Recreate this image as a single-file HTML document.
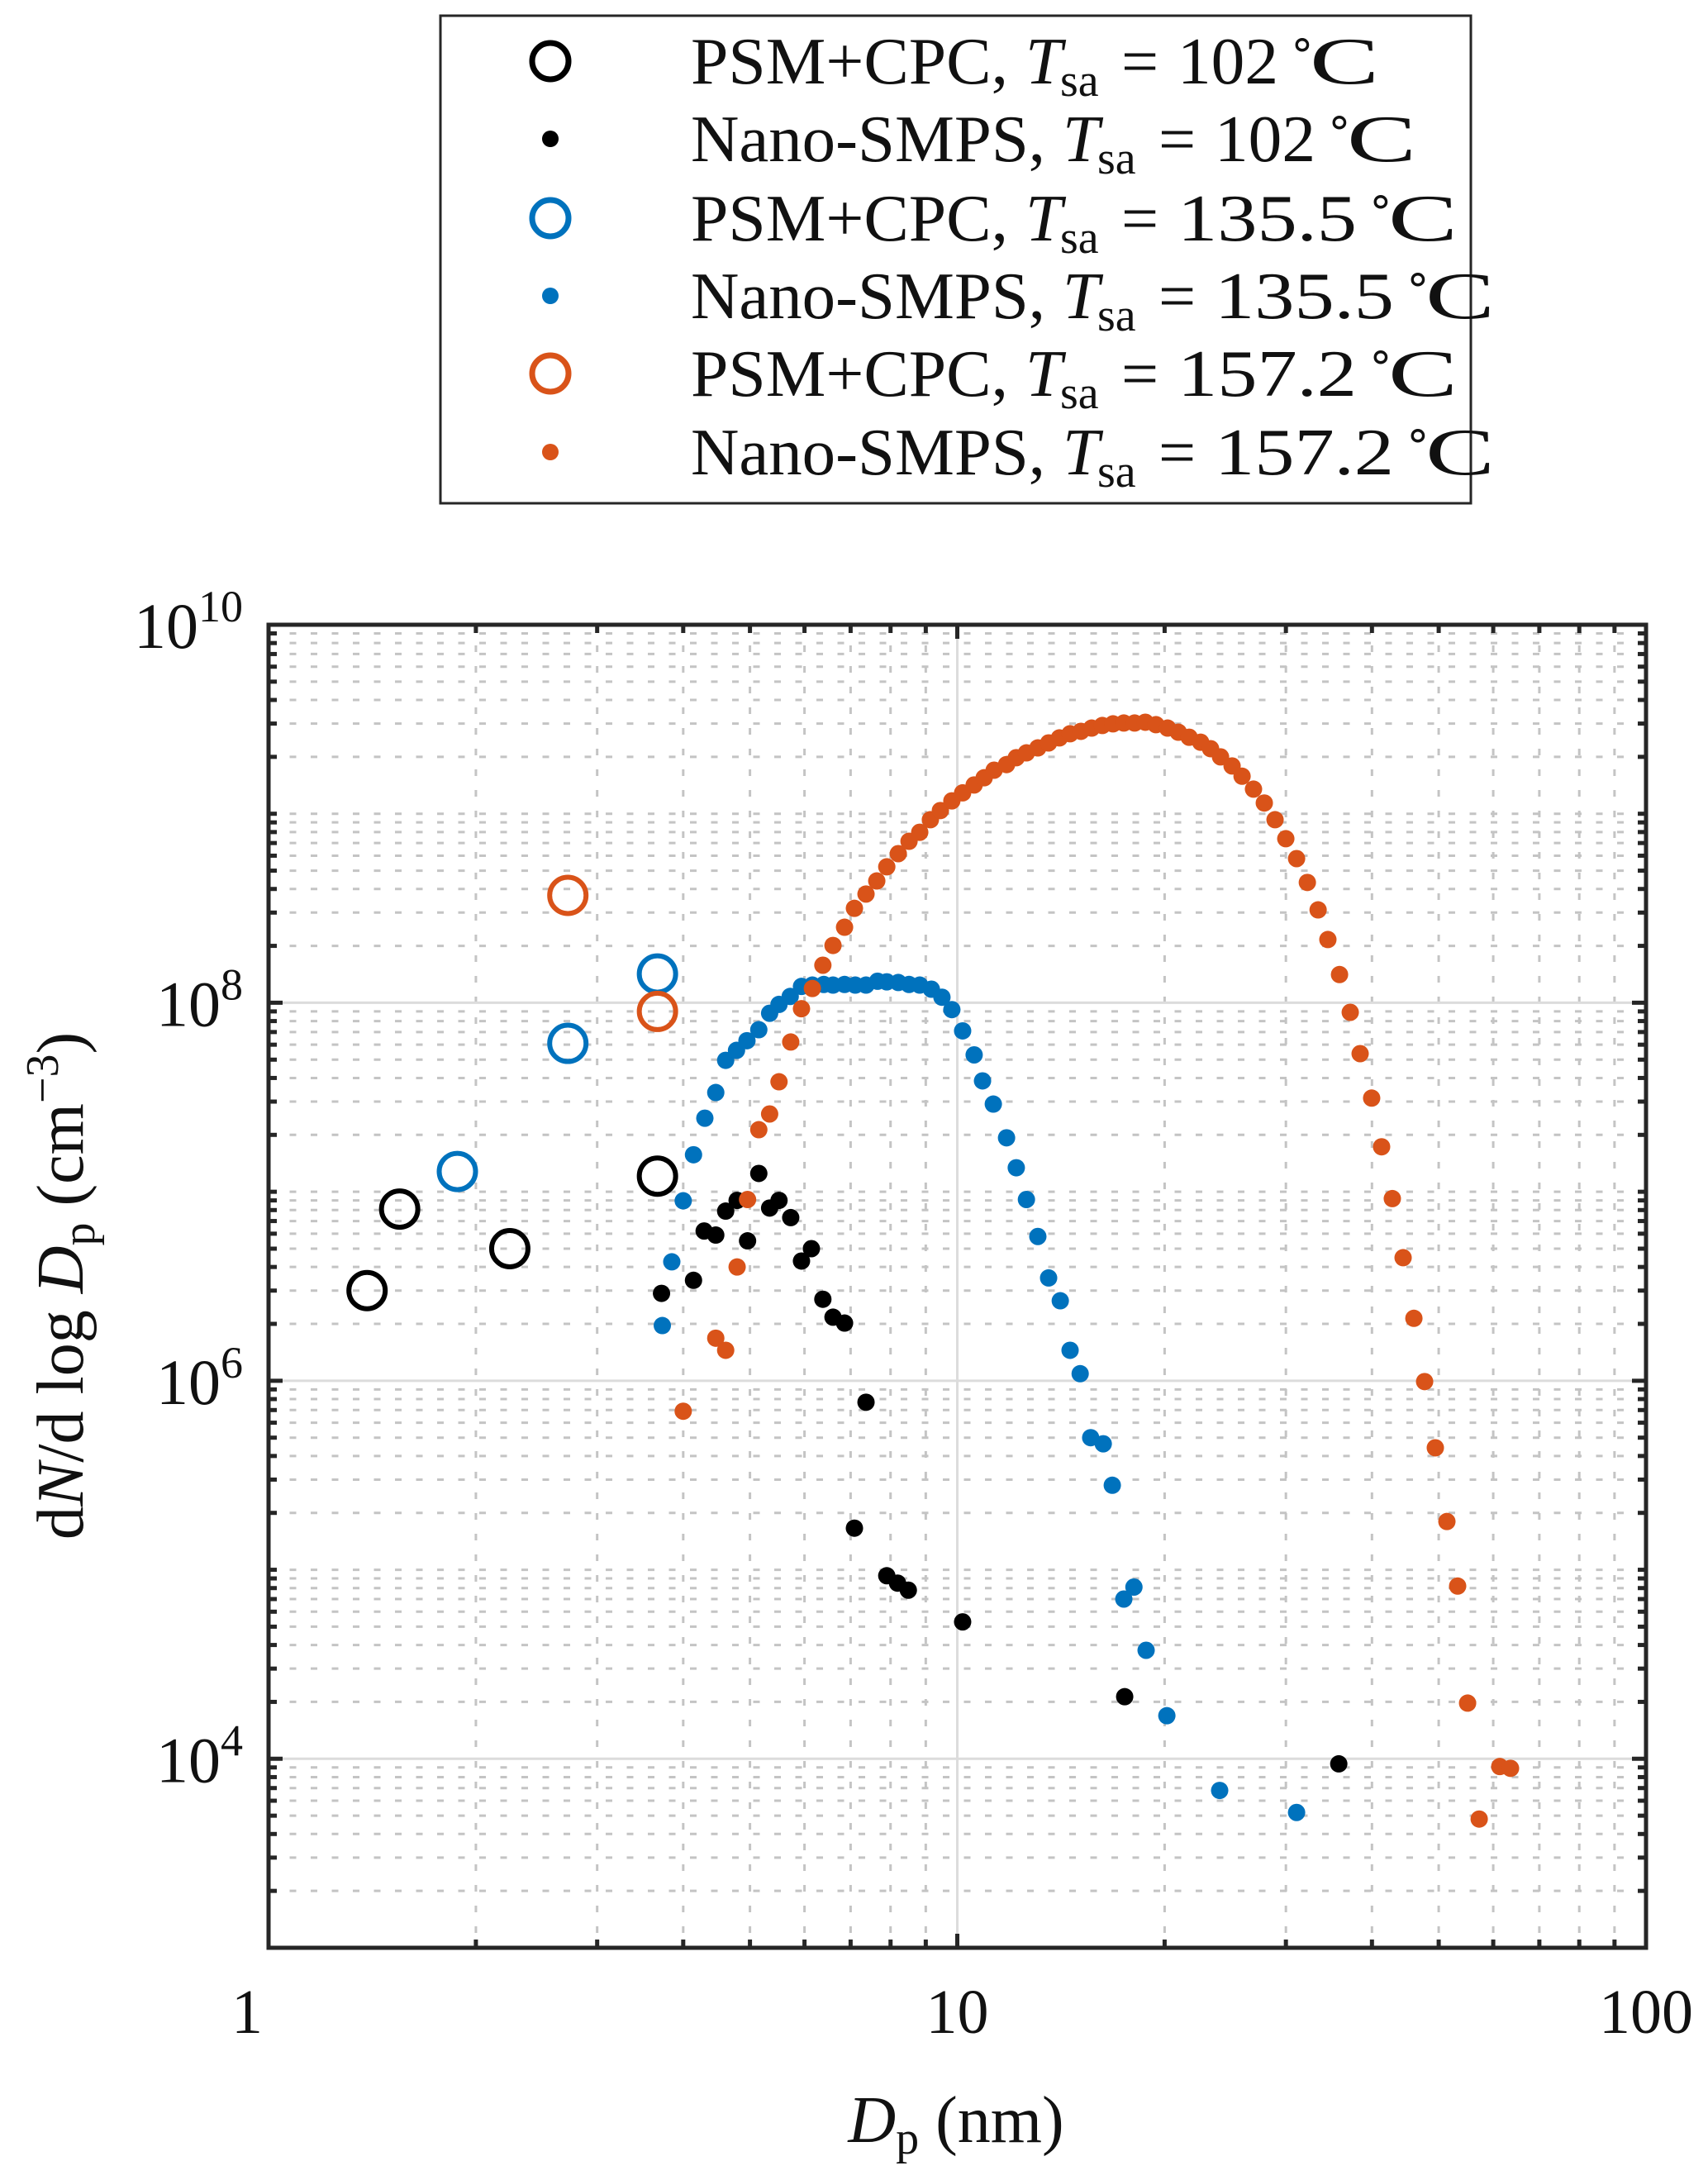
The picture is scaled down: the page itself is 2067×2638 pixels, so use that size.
<!DOCTYPE html>
<html><head><meta charset="utf-8"><style>
html,body{margin:0;padding:0;background:#fff;}
svg{display:block;font-family:"Liberation Serif",serif;}
</style></head><body>
<svg id="chart" width="2067" height="2638" viewBox="0 0 2067 2638" xmlns="http://www.w3.org/2000/svg">
<rect x="0" y="0" width="2067" height="2638" fill="#fff"/>
<g id="grid"></g>
<g id="data"></g>
<g id="axes"></g>
<text x="1157" y="2592" font-size="80" text-anchor="middle" fill="#111"><tspan font-style="italic">D</tspan><tspan font-size="56" dy="14">p</tspan><tspan dy="-14"> (nm)</tspan></text>
<text transform="translate(100,1556) rotate(-90)" font-size="80" text-anchor="middle" fill="#111">d<tspan font-style="italic">N</tspan>/d log <tspan font-style="italic">D</tspan><tspan font-size="56" dy="14">p</tspan><tspan dy="-14"> (cm</tspan><tspan font-size="56" dy="-30">−3</tspan><tspan dy="30">)</tspan></text>
<g id="legend">
<rect x="533" y="19" width="1247" height="590" fill="#fff" stroke="#262626" stroke-width="3"/>
</g>
</svg>
<script>
// ---- data (Dp in nm, dN/dlogDp in cm^-3) ----
const psm102D = [1.39, 1.55, 2.24, 3.67];
const psm102N = [3.0e6, 8.1e6, 5.0e6, 1.21e7];
const psm135D = [1.88, 2.72, 3.67];
const psm135N = [1.28e7, 6.1e7, 1.42e8];
const psm157D = [2.72, 3.67];
const psm157N = [3.7e8, 9.0e7];

const smps102D = [3.72,4.14,4.29,4.46,4.61,4.79,4.96,5.15,5.34,5.51,5.73,5.94,6.14,6.38,6.60,6.86,7.37,7.09,7.90,8.19,8.49,10.18,17.5,35.8];
const smps102N = [2.9e6,3.4e6,6.2e6,5.9e6,7.9e6,9.0e6,5.5e6,1.25e7,8.2e6,9.0e6,7.3e6,4.3e6,5.0e6,2.7e6,2.17e6,2.02e6,7.7e5,1.66e5,9.3e4,8.5e4,7.8e4,5.3e4,2.13e4,9.4e3];

const smps135D = [3.73,3.85,4.00,4.14,4.30,4.46,4.61,4.78,4.95,5.15,5.34,5.51,5.72,5.94,6.16,6.40,6.60,6.86,7.11,7.37,7.66,7.90,8.21,8.51,8.82,9.17,9.50,9.82,10.18,10.58,10.88,11.28,11.79,12.18,12.60,13.09,13.57,14.11,14.58,15.08,15.62,16.29,16.79,17.45,18.05,18.80,20.15,24.04,31.09];
const smps135N = [1.96e6,4.26e6,8.96e6,1.57e7,2.45e7,3.35e7,4.96e7,5.6e7,6.3e7,7.2e7,8.8e7,9.8e7,1.08e8,1.22e8,1.24e8,1.25e8,1.24e8,1.25e8,1.24e8,1.24e8,1.30e8,1.29e8,1.28e8,1.25e8,1.24e8,1.18e8,1.07e8,9.2e7,7.1e7,5.3e7,3.86e7,2.91e7,1.93e7,1.34e7,9.1e6,5.8e6,3.5e6,2.65e6,1.45e6,1.09e6,5.0e5,4.64e5,2.8e5,7.0e4,8.1e4,3.75e4,1.69e4,6.8e3,5.2e3];

const smps157D = [4.00,4.46,4.61,4.79,4.96,5.15,5.34,5.51,5.73,5.94,6.16,6.38,6.60,6.86,7.09,7.37,7.64,7.90,8.21,8.51,8.82,9.14,9.45,9.82,10.18,10.58,10.94,11.31,11.79,12.18,12.60,13.09,13.57,14.07,14.58,15.12,15.67,16.24,16.83,17.45,18.09,18.75,19.43,20.20,20.94,21.71,22.56,23.32,24.11,25.06,25.91,26.92,27.91,28.93,29.99,31.09,32.23,33.41,34.52,35.89,37.20,38.45,39.96,41.31,42.82,44.39,46.02,47.70,49.44,51.39,53.27,55.07,57.25,61.33,63.57];
const smps157N = [6.9e5,1.68e6,1.45e6,4.0e6,9.1e6,2.13e7,2.58e7,3.82e7,6.2e7,9.3e7,1.19e8,1.58e8,2.01e8,2.51e8,3.16e8,3.76e8,4.41e8,5.24e8,6.15e8,7.15e8,7.98e8,9.3e8,1.04e9,1.17e9,1.29e9,1.42e9,1.55e9,1.70e9,1.82e9,1.98e9,2.10e9,2.23e9,2.37e9,2.52e9,2.65e9,2.73e9,2.84e9,2.93e9,2.99e9,3.02e9,3.02e9,3.05e9,2.96e9,2.84e9,2.70e9,2.54e9,2.39e9,2.21e9,2.00e9,1.79e9,1.58e9,1.35e9,1.14e9,9.3e8,7.38e8,5.79e8,4.33e8,3.10e8,2.16e8,1.41e8,8.9e7,5.38e7,3.13e7,1.73e7,9.2e6,4.48e6,2.14e6,9.9e5,4.42e5,1.80e5,8.2e4,1.97e4,4.8e3,9.1e3,8.9e3];

const xTickValues = [1, 10, 100];
const xTickLabels = ["1", "10", "100"];
const yTickExponents = [4, 6, 8, 10];

// ---- axes geometry ----
const PL = 325, PR = 1992, PT = 756, PB = 2357;
const X_MIN = 0, X_MAX = 2, Y_MIN = 3, Y_MAX = 10;
function xs(v){ return PL + (Math.log10(v) - X_MIN) / (X_MAX - X_MIN) * (PR - PL); }
function ys(v){ return PB - (Math.log10(v) - Y_MIN) / (Y_MAX - Y_MIN) * (PB - PT); }

const NS = "http://www.w3.org/2000/svg";
function mk(tag, attrs, parent){
  const e = document.createElementNS(NS, tag);
  for (const k in attrs) e.setAttribute(k, attrs[k]);
  parent.appendChild(e);
  return e;
}
const grid = document.getElementById('grid');
const axes = document.getElementById('axes');
const dataG = document.getElementById('data');

// grid
for (let e = X_MIN; e < X_MAX; e++) {
  for (let k = 1; k <= 9; k++) {
    const v = k * Math.pow(10, e);
    if (v <= 1) continue;
    const x = xs(v);
    const major = (k === 1);
    const ln = mk('line', {x1:x, x2:x, y1:PT, y2:PB, stroke: major ? '#dcdcdc' : '#c4c4c4', 'stroke-width': 3, 'stroke-dasharray': major ? 'none' : '8 17'}, grid);
    
    
  }
}
for (let e = Y_MIN; e < Y_MAX; e++) {
  for (let k = 1; k <= 9; k++) {
    const v = k * Math.pow(10, e);
    if (e === Y_MIN && k === 1) continue;
    const y = ys(v);
    const major = (k === 1 && e % 2 === 0);
    const ln = mk('line', {x1:PL, x2:PR, y1:y, y2:y, stroke: major ? '#dcdcdc' : '#c4c4c4', 'stroke-width': 3, 'stroke-dasharray': major ? 'none' : '8 17.5'}, grid);
    
    
  }
}

// series
function hollow(D, N, color, name){
  for (let i = 0; i < D.length; i++) {
    const c = mk('circle', {cx: xs(D[i]), cy: ys(N[i]), r: 22, fill: 'none', stroke: color, 'stroke-width': 6}, dataG);
    
    
  }
}
function dots(D, N, color, name){
  for (let i = 0; i < D.length; i++) {
    const c = mk('circle', {cx: xs(D[i]), cy: ys(N[i]), r: 10.5, fill: color}, dataG);
    
    
  }
}
const BLK = '#000', BLU = '#0072BD', ORG = '#D95319';
dots(smps102D, smps102N, BLK, 'smps-102-point');
dots(smps135D, smps135N, BLU, 'smps-135-point');
dots(smps157D, smps157N, ORG, 'smps-157-point');
hollow(psm102D, psm102N, BLK, 'psm-102-point');
hollow(psm135D, psm135N, BLU, 'psm-135-point');
hollow(psm157D, psm157N, ORG, 'psm-157-point');

// frame
const frame = mk('rect', {x:PL, y:PT, width:PR-PL, height:PB-PT, fill:'none', stroke:'#262626', 'stroke-width':5}, axes);



// ticks
for (let e = X_MIN; e < X_MAX; e++) {
  for (let k = 1; k <= 9; k++) {
    const v = k * Math.pow(10, e);
    if (v <= 1) continue;
    const x = xs(v), L = (k === 1) ? 17 : 10;
    const t1 = mk('line', {x1:x, x2:x, y1:PB, y2:PB-L, stroke:'#262626', 'stroke-width':5}, axes);
    
    
    const t2 = mk('line', {x1:x, x2:x, y1:PT, y2:PT+L, stroke:'#262626', 'stroke-width':5}, axes);
    
    
  }
}
for (let e = Y_MIN; e < Y_MAX; e++) {
  for (let k = 1; k <= 9; k++) {
    if (e === Y_MIN && k === 1) continue;
    const y = ys(k * Math.pow(10, e)), L = (k === 1 && e % 2 === 0) ? 17 : 10;
    const t1 = mk('line', {x1:PL, x2:PL+L, y1:y, y2:y, stroke:'#262626', 'stroke-width':5}, axes);
    
    
    const t2 = mk('line', {x1:PR, x2:PR-L, y1:y, y2:y, stroke:'#262626', 'stroke-width':5}, axes);
    
    
  }
}

// tick labels
for (let i = 0; i < xTickValues.length; i++) {
  const x = xs(xTickValues[i]) + (i === 0 ? -26 : 0);
  const t = mk('text', {x:x, y:2460, 'font-size':76, 'text-anchor':'middle', fill:'#111'}, axes);
  t.textContent = xTickLabels[i];
  
  
}
for (let i = 0; i < yTickExponents.length; i++) {
  const y = ys(Math.pow(10, yTickExponents[i]));
  const t = mk('text', {x:294, y:y+28, 'font-size':78, 'text-anchor':'end', fill:'#111'}, axes);
  
  
  const b = document.createElementNS(NS, 'tspan'); b.textContent = '10'; t.appendChild(b);
  const s = document.createElementNS(NS, 'tspan');
  s.setAttribute('font-size', 54); s.setAttribute('dy', -32);
  s.textContent = String(yTickExponents[i]); t.appendChild(s);
}

// legend
const legendRows = [
  {kind:'hollow', color:BLK, label:'PSM+CPC,', val:'102', off:0},
  {kind:'dot', color:BLK, label:'Nano-SMPS,', val:'102', off:45},
  {kind:'hollow', color:BLU, label:'PSM+CPC,', val:'135.5', off:0},
  {kind:'dot', color:BLU, label:'Nano-SMPS,', val:'135.5', off:45},
  {kind:'hollow', color:ORG, label:'PSM+CPC,', val:'157.2', off:0},
  {kind:'dot', color:ORG, label:'Nano-SMPS,', val:'157.2', off:45}
];
const leg = document.getElementById('legend');
const rowY = [74, 168, 264, 358, 452, 547];
function ltext(x, y, txt, attrs, name){
  const t = mk('text', Object.assign({x:x, y:y, 'font-size':80, fill:'#111'}, attrs || {}), leg);
  t.textContent = txt;
  
  
  return t;
}
legendRows.forEach((r, i) => {
  const y = rowY[i];
  let m;
  if (r.kind === 'hollow') m = mk('circle', {cx:666, cy:y, r:22, fill:'none', stroke:r.color, 'stroke-width':7}, leg);
  else m = mk('circle', {cx:666, cy:y, r:10, fill:r.color}, leg);
  
  
  const base = y + 27;
  const labW = r.label.length === 8 ? 384 : 429;
  ltext(836, base, r.label, {textLength: labW, lengthAdjust:'spacingAndGlyphs'}, 'legend-label');
  ltext(1241 + r.off, base, 'T', {'font-style':'italic'}, 'legend-t-symbol');
  ltext(1283 + r.off, base + 15, 'sa', {'font-size':56}, 'legend-subscript');
  ltext(1357 + r.off, base, '=', {}, 'legend-equals');
  const valW = r.val.length === 3 ? 122 : 217;
  ltext(1425 + r.off, base, r.val, {textLength: valW, lengthAdjust:'spacingAndGlyphs'}, 'legend-value');
  const end = 1425 + r.off + valW;
  ltext(end + 12, y - 2, '∘', {'font-size':54}, 'legend-degree');
  ltext(end + 38, base, 'C', {textLength: 84, lengthAdjust:'spacingAndGlyphs'}, 'legend-unit');
});
</script>
</body></html>
